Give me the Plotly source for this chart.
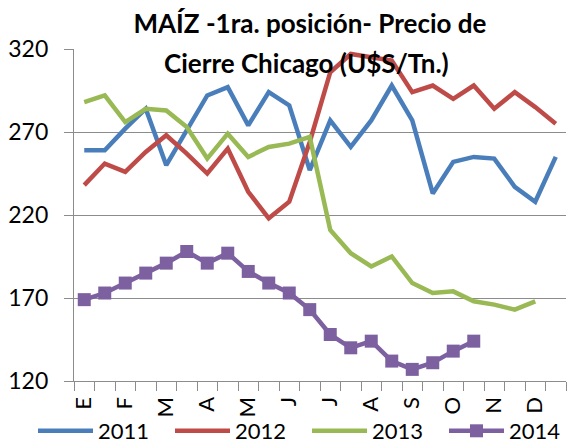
import plotly.graph_objects as go

# Quincenas (two points per month)
periods = ["E1", "E2", "F1", "F2", "M1", "M2", "A1", "A2", "My1", "My2", "J1", "J2",
           "Jl1", "Jl2", "Ag1", "Ag2", "S1", "S2", "O1", "O2", "N1", "N2", "D1", "D2"]
month_labels = ["E", "", "F", "", "M", "", "A", "", "M", "", "J", "",
                "J", "", "A", "", "S", "", "O", "", "N", "", "D", ""]

y2011 = [259, 259, 272, 284, 250, 271, 292, 297, 274, 294, 286, 247,
         277, 261, 277, 298, 277, 233, 252, 255, 254, 237, 228, 255]
y2012 = [238, 251, 246, 258, 268, 257, 245, 260, 234, 218, 228, 264,
         306, 317, 315, 313, 294, 298, 290, 298, 284, 294, 285, 275]
y2013 = [288, 292, 276, 284, 283, 273, 254, 269, 255, 261, 263, 267,
         211, 197, 189, 195, 179, 173, 174, 168, 166, 163, 168, None]
y2014 = [169, 173, 179, 185, 191, 198, 191, 197, 186, 179, 173, 163,
         148, 140, 144, 132, 127, 131, 138, 144, None, None, None, None]

series = [
    ("2011", y2011, "#4A7EBB", False),
    ("2012", y2012, "#BE4B48", False),
    ("2013", y2013, "#98B954", False),
    ("2014", y2014, "#7D60A0", True),
]

FONT = "Lato"
GRID = "#8C8C8C"

fig = go.Figure()
for name, vals, color, markers in series:
    fig.add_trace(go.Scatter(
        x=periods, y=vals, name=name,
        mode="lines+markers" if markers else "lines",
        line=dict(color=color, width=4.5),
        marker=dict(symbol="square", size=13, color=color),
        connectgaps=False,
    ))

fig.update_layout(
    width=567, height=445, autosize=False,
    paper_bgcolor="white", plot_bgcolor="white",
    margin=dict(l=74, r=1, t=49, b=64, autoexpand=False),
    font=dict(family=FONT, color="black"),
    title=dict(text="<b>MAÍZ -1ra. posición- Precio de</b>",
               font=dict(family=FONT, size=26, color="black"),
               x=310 / 567, xref="container", xanchor="center",
               y=1 - 24 / 445, yref="container", yanchor="middle"),
    showlegend=True,
    legend=dict(orientation="h", xref="paper", yref="paper",
                x=(33 - 74) / 492, xanchor="left",
                y=(381 - 431) / 332, yanchor="middle",
                font=dict(family=FONT, size=22, color="black"),
                entrywidth=67, entrywidthmode="pixels",
                itemwidth=55, bgcolor="rgba(0,0,0,0)"),
    hovermode=False,
)

fig.add_annotation(
    text="<b>Cierre Chicago (U$S/Tn.)</b>",
    xref="paper", yref="paper", x=(306 - 74) / 492, y=(381 - 63) / 332,
    xanchor="center", yanchor="middle", showarrow=False,
    font=dict(family=FONT, size=26, color="black"),
)

fig.update_xaxes(
    type="category", categoryorder="array", categoryarray=periods,
    tickmode="array", tickvals=periods, ticktext=month_labels,
    tickson="boundaries", ticks="outside", ticklen=9, tickwidth=1.3, tickcolor=GRID,
    tickangle=-90, tickfont=dict(family=FONT, size=22, color="black"),
    ticklabelstandoff=6, automargin=False,
    showline=True, linecolor=GRID, linewidth=1.3,
    showgrid=False, zeroline=False, range=[-0.5, 23.5],
)
fig.update_yaxes(
    range=[120, 320], tickmode="linear", tick0=120, dtick=50,
    ticks="outside", ticklen=9, tickwidth=1.3, tickcolor=GRID,
    tickfont=dict(family=FONT, size=23, color="black"),
    ticklabelstandoff=11, automargin=False,
    showline=True, linecolor=GRID, linewidth=1.3,
    showgrid=True, gridcolor=GRID, gridwidth=1.3, zeroline=False,
)

fig.write_html("out.html", config={"displayModeBar": False},
               post_script="document.body.style.margin='0';document.body.style.overflow='hidden';")
